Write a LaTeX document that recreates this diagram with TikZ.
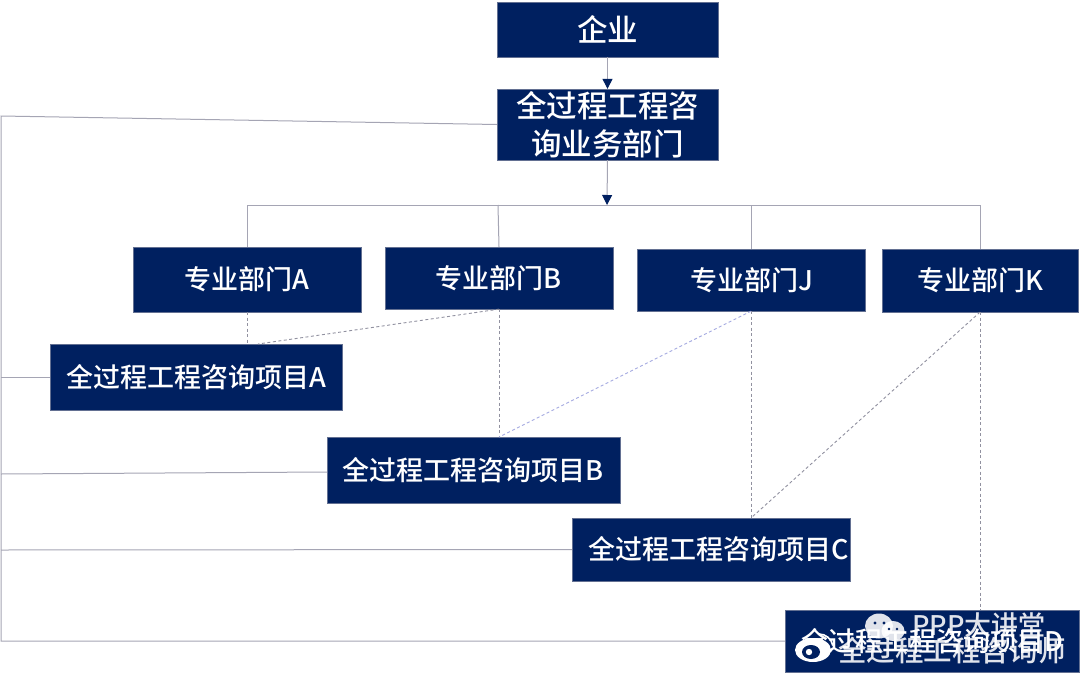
\documentclass[tikz,border=0pt]{standalone}
\usepackage{fontspec}
\setmainfont{Noto Sans CJK SC Medium}
\usetikzlibrary{arrows.meta}
\definecolor{navy}{RGB}{0,32,96}
\definecolor{linegray}{RGB}{165,165,180}
\definecolor{dashgray}{RGB}{145,145,160}
\definecolor{dashblue}{RGB}{165,170,225}
\tikzset{
  box/.style={fill=navy,draw=linegray!60!navy,line width=0.3pt,text=white,inner sep=0pt,align=center},
  big/.style={box,font=\fontsize{30.5}{38}\selectfont},
  mid/.style={box,font=\fontsize{27}{30}\selectfont},
  link/.style={draw=linegray,line width=1pt},
  arrowlink/.style={link,-{Triangle[length=10pt,width=10pt,fill=navy,color=navy]}},
  dashlink/.style={draw=dashgray,line width=0.9pt,dash pattern=on 3pt off 2.5pt},
  bluedash/.style={dashlink,draw=dashblue},
  wmtext/.style={text=white,inner sep=0pt,opacity=0.88},
  wmsmall/.style={wmtext,font=\fontsize{27}{30}\selectfont},
  wmlarge/.style={wmtext,font=\fontsize{28.5}{30}\selectfont}
}
\begin{document}
\begin{tikzpicture}[x=1pt,y=-1pt]
\useasboundingbox[fill=white] (0,0) rectangle (1080,675);
\node[big,minimum width=221pt,minimum height=55pt] (top) at (607.5,29.5) {企业};
\node[big,minimum width=221pt,minimum height=71pt] (dept) at (607.5,124.5) {\raisebox{-1pt}{全过程工程咨}\\\raisebox{-1pt}{询业务部门}};
\node[mid,minimum width=228pt,minimum height=65pt] (da) at (247,279.5) {专业部门A};
\node[mid,minimum width=228pt,minimum height=62pt] (db) at (499,278) {\hspace{0pt}专业部门B};
\node[mid,minimum width=228pt,minimum height=62pt] (dj) at (751,280) {\hspace{2pt}专业部门J};
\node[mid,minimum width=196pt,minimum height=63pt] (dk) at (980,280.5) {专业部门K};
\node[mid,minimum width=292pt,minimum height=66pt] (pa) at (196,377) {全过程工程咨询项目A};
\node[mid,minimum width=293pt,minimum height=66pt] (pb) at (473.5,470) {全过程工程咨询项目B};
\node[mid,minimum width=278pt,minimum height=63pt] (pc) at (711,549.5) {\hspace{16pt}全过程工程咨询项目C};
\node[mid,minimum width=294pt,minimum height=62pt] (pd) at (932,641) {\raisebox{3pt}{全过程工程咨询项目D}};
% free points on the connectors
\coordinate (tl) at (1,116);
\coordinate (bl) at (1,641);
\coordinate (bus) at (607,205);
\coordinate (busa) at (247,205);
\coordinate (busb) at (498,205);
\coordinate (busj) at (751,205);
\coordinate (busk) at (980,205);
\coordinate (la) at (1,377);
\coordinate (lb) at (1,474);
\coordinate (lbe) at (327,472);
\coordinate (lc) at (1,550);
\coordinate (pat) at (247,344);
\coordinate (pat2) at (258,344);
\coordinate (pbt) at (499,437);
\coordinate (pct) at (751,518);
\coordinate (pdt) at (980,610);
% arrows
\draw[arrowlink] (top.south) -- (dept.north);
\draw[arrowlink] (dept.south) -- (bus);
% bus
\draw[link] (busa) -- (busk);
\draw[link] (busa) -- (da.north);
\draw[link] (busb) -- (db.north);
\draw[link] (busj) -- (dj.north);
\draw[link] (busk) -- (dk.north);
% left rail
\draw[link] (dept.west) -- (tl) -- (bl) -- (pd.west);
\draw[link] (la) -- (pa.west);
\draw[link] (lb) -- (lbe);
\draw[link] (lc) -- (pc.west);
% dashed links
\draw[dashlink] (da.south) -- (pat);
\draw[dashlink] (db.south) -- (pat2);
\draw[dashlink] (db.south) -- (pbt);
\draw[bluedash] (dj.south) -- (pbt);
\draw[dashlink] (dj.south) -- (pct);
\draw[dashlink] (dk.south) -- (pct);
\draw[dashlink] (dk.south) -- (pdt);
% watermark
\fill[white,opacity=0.88] (879,626) ellipse (14pt and 12.5pt);
\fill[white,opacity=0.88] (893,631) ellipse (11.5pt and 10pt);
\fill[navy] (875,623) circle (1.7pt) (884,623) circle (1.7pt) (889,629) circle (1.4pt) (897,629) circle (1.4pt);
\fill[white] (813,650) ellipse (18pt and 12pt);
\fill[navy] (811,652) ellipse (9pt and 7pt);
\fill[white] (809,652) circle (3.2pt);
\draw[white,line width=1.6pt] (819,640) arc (90:10:8pt);
\draw[white,line width=1.6pt] (819,634) arc (90:10:14pt);
\node[wmsmall,anchor=base west] (wa) at (912,635) {PPP大讲堂};
\node[wmlarge,anchor=base west] (wb) at (838,661) {全过程工程咨询师};
\end{tikzpicture}
\end{document}
